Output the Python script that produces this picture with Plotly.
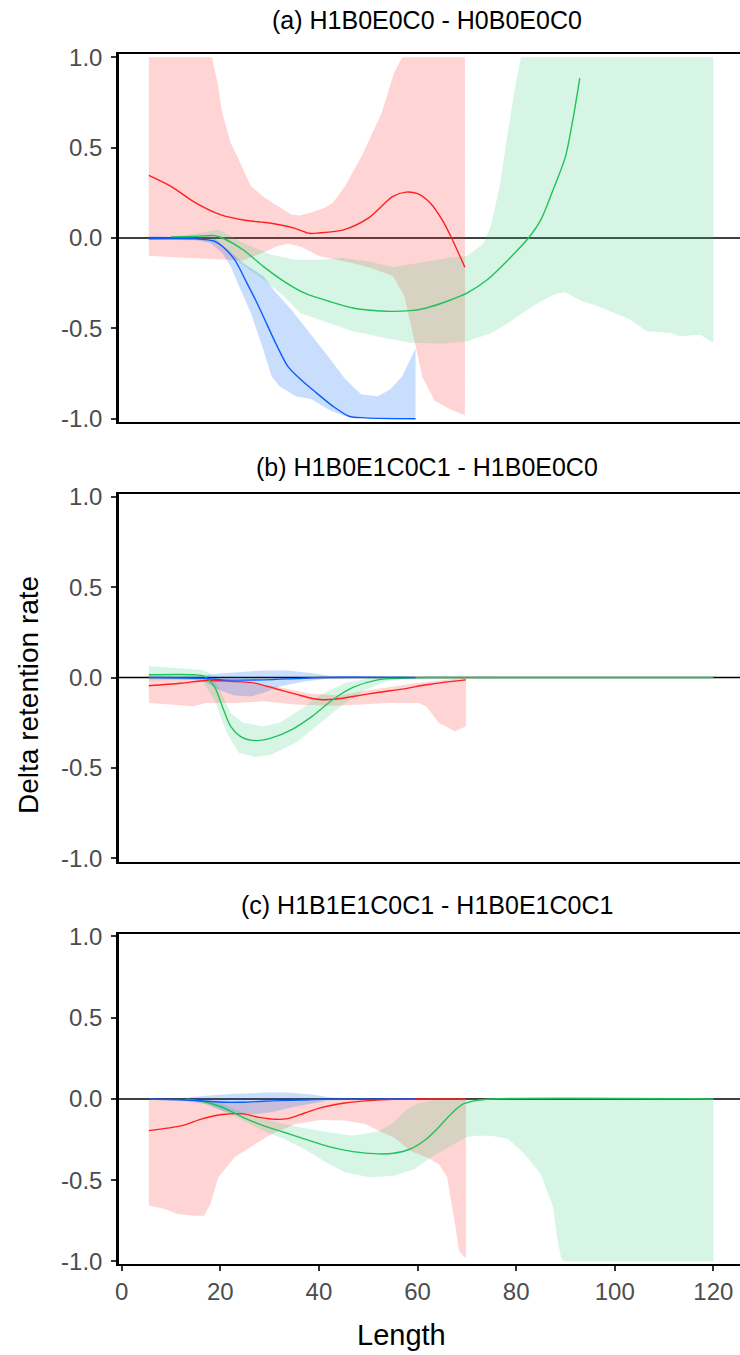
import plotly.graph_objects as go

W, H = 740, 1355

# ---------------- Panel (a) ----------------
a_red_x = [5.5, 10, 15, 20, 25, 30, 35, 38, 40, 45, 50, 55, 57.7, 60, 62.7, 65, 66.9, 69.6]
a_red_y = [0.347, 0.286, 0.194, 0.129, 0.098, 0.083, 0.055, 0.026, 0.028, 0.045, 0.11, 0.23, 0.254, 0.245, 0.19, 0.10, 0.0, -0.162]
a_red_up_x = [5.5, 18.3, 19.5, 20.4, 22.1, 23.8, 26.2, 28.7, 31.2, 34.5, 36.2, 38.6, 41.1, 42.8, 45.3, 48.6, 52.7, 55.2, 56.9, 69.6]
a_red_up_y = [1.0, 1.0, 0.85, 0.69, 0.525, 0.43, 0.286, 0.23, 0.184, 0.129, 0.124, 0.142, 0.166, 0.194, 0.286, 0.45, 0.69, 0.91, 1.0, 1.0]
a_red_lo_x = [5.5, 10, 15, 20.4, 24.6, 28.7, 31.5, 33.7, 36.5, 40, 43, 47, 51, 55, 57.3, 59.3, 61, 63.5, 66.8, 69.6]
a_red_lo_y = [-0.098, -0.105, -0.11, -0.12, -0.125, -0.08, -0.045, -0.03, -0.05, -0.10, -0.115, -0.14, -0.17, -0.21, -0.32, -0.56, -0.77, -0.9, -0.95, -0.98]

a_grn_x = [10, 14, 18.8, 20.4, 24.6, 28.7, 32.9, 37, 42, 46.9, 53.5, 58.5, 61.8, 66, 70.1, 74.2, 78.4, 82.5, 85, 87.5, 90, 91.6, 92.9]
a_grn_y = [0.006, 0.008, 0.013, 0.0, -0.065, -0.157, -0.24, -0.304, -0.35, -0.387, -0.405, -0.402, -0.387, -0.35, -0.304, -0.23, -0.12, 0.0, 0.10, 0.267, 0.45, 0.67, 0.885]
a_grn_up_x = [10, 14, 19.6, 25, 30, 35, 40, 45, 50, 55, 60, 66, 70, 73.4, 75, 76.7, 78.4, 80, 81, 120]
a_grn_up_y = [0.01, 0.02, 0.046, -0.03, -0.09, -0.12, -0.12, -0.11, -0.13, -0.16, -0.14, -0.11, -0.10, -0.03, 0.08, 0.29, 0.6, 0.87, 1.0, 1.0]
a_grn_lo_x = [10, 14, 18, 20.4, 24, 28.7, 32.8, 36.2, 42, 46.9, 53.5, 58.5, 65.1, 70.1, 75, 78.4, 81.7, 85, 88, 90, 93.3, 95.8, 99.9, 103.2, 106.5, 111.5, 113.1, 117.3, 120]
a_grn_lo_y = [-0.01, -0.005, 0.0, -0.046, -0.14, -0.23, -0.32, -0.415, -0.47, -0.516, -0.553, -0.58, -0.584, -0.571, -0.525, -0.47, -0.406, -0.35, -0.31, -0.30, -0.35, -0.369, -0.415, -0.452, -0.516, -0.525, -0.544, -0.535, -0.58]

a_blu_x = [5.5, 15, 18.8, 20.4, 22.9, 25.4, 27.1, 28.7, 31.2, 33.7, 36.2, 39.5, 42.8, 46.1, 49.4, 59.6]
a_blu_y = [-0.004, -0.005, -0.018, -0.046, -0.12, -0.25, -0.34, -0.433, -0.58, -0.71, -0.78, -0.857, -0.93, -0.986, -0.995, -1.0]
a_blu_up_x = [5.5, 15, 18.8, 20.4, 24.6, 28.7, 31.2, 34.5, 38.6, 42, 45.3, 48.6, 51.9, 54.4, 56.9, 59.6]
a_blu_up_y = [0.01, 0.005, 0.0, -0.037, -0.138, -0.21, -0.30, -0.40, -0.54, -0.66, -0.78, -0.866, -0.876, -0.84, -0.765, -0.61]
a_blu_lo_x = [5.5, 15, 18, 20.4, 22.1, 23.8, 26.2, 28.7, 30.4, 32, 35.3, 38.6, 42, 45.3, 48.6, 59.6]
a_blu_lo_y = [-0.01, -0.012, -0.028, -0.083, -0.157, -0.267, -0.415, -0.617, -0.765, -0.82, -0.876, -0.894, -0.95, -0.986, -0.995, -1.0]

# ---------------- Panel (b) ----------------
b_red_x = [5.5, 12, 17.1, 22.9, 27, 31.2, 35.3, 38.6, 40.7, 43.6, 46.9, 51.9, 56.9, 61.8, 66, 69.8]
b_red_y = [-0.046, -0.032, -0.017, -0.022, -0.031, -0.062, -0.092, -0.116, -0.123, -0.119, -0.105, -0.083, -0.064, -0.04, -0.024, -0.013]
b_red_up_x = [5.5, 15, 20, 23.3, 31.4, 38.2, 44.3, 50, 55, 60, 65, 69.8]
b_red_up_y = [-0.005, -0.005, -0.01, -0.022, -0.05, -0.09, -0.10, -0.07, -0.05, -0.03, -0.015, 0.0]
b_red_lo_x = [5.5, 14.6, 17.1, 22.9, 28.7, 35.3, 42, 48.6, 53.5, 60.2, 61.8, 64.3, 67.6, 69.8]
b_red_lo_y = [-0.141, -0.159, -0.141, -0.141, -0.132, -0.150, -0.156, -0.15, -0.141, -0.141, -0.160, -0.25, -0.297, -0.270]

b_grn_x = [5.5, 14.7, 16.7, 18.8, 20.4, 22.1, 24.6, 27.5, 30.4, 34.5, 38.6, 42.8, 46.9, 51.9, 56.9, 61.8, 120]
b_grn_y = [0.015, 0.015, 0.006, -0.05, -0.16, -0.27, -0.334, -0.349, -0.334, -0.288, -0.215, -0.123, -0.055, -0.013, -0.004, 0.0, 0.0]
b_grn_up_x = [5.5, 12.2, 16.3, 18, 19.6, 22.1, 24.6, 28.7, 32, 36.2, 40.3, 45.3, 50.2, 55.2, 120]
b_grn_up_y = [0.064, 0.051, 0.042, 0.024, -0.05, -0.196, -0.251, -0.27, -0.251, -0.178, -0.095, -0.031, -0.006, 0.0, 0.0]
b_grn_lo_x = [5.5, 12.2, 16.3, 18.8, 21.3, 23.7, 27.1, 30.4, 35.3, 40.3, 45.3, 49.4, 53.5, 58.5, 120]
b_grn_lo_y = [-0.017, -0.013, -0.017, -0.123, -0.306, -0.417, -0.44, -0.426, -0.361, -0.251, -0.141, -0.068, -0.022, -0.004, 0.0]

b_blu_x = [5.5, 16.3, 20.4, 28.7, 35.3, 40.3, 59.6]
b_blu_y = [0.0, -0.004, -0.013, -0.013, -0.006, 0.0, 0.0]
b_blu_up_x = [5.5, 15, 20.4, 28.7, 33.7, 38.6, 42, 59.6]
b_blu_up_y = [0.005, 0.01, 0.024, 0.039, 0.039, 0.024, 0.009, 0.002]
b_blu_lo_x = [5.5, 16.3, 19.6, 22.9, 26.2, 28.7, 32, 37, 42, 59.6]
b_blu_lo_y = [-0.004, -0.013, -0.068, -0.10, -0.105, -0.086, -0.05, -0.022, -0.006, -0.002]

# ---------------- Panel (c) ----------------
c_red_x = [5.5, 12.2, 16.3, 20.4, 24.6, 27.9, 31.2, 33.7, 37, 40.3, 45.3, 50.2, 55.2, 59.6, 69.8]
c_red_y = [-0.195, -0.164, -0.123, -0.096, -0.092, -0.113, -0.125, -0.121, -0.088, -0.055, -0.025, -0.01, -0.002, 0.0, 0.0]
c_red_up_x = [5.5, 20, 30, 40, 50, 69.8]
c_red_up_y = [-0.005, -0.01, -0.02, -0.01, 0.0, 0.0]
c_red_lo_x = [5.5, 8.8, 11.3, 14.6, 16.7, 18, 19.6, 22.9, 27.1, 30.4, 35.3, 40.3, 45.3, 49.4, 52.7, 55.2, 58.5, 61.8, 64.3, 66, 67.6, 68.4, 69.5, 69.8]
c_red_lo_y = [-0.656, -0.677, -0.708, -0.718, -0.718, -0.646, -0.482, -0.359, -0.277, -0.215, -0.154, -0.129, -0.133, -0.154, -0.205, -0.236, -0.318, -0.359, -0.40, -0.482, -0.769, -0.933, -0.974, -0.974]

c_grn_x = [13, 17.1, 20.4, 24.6, 28.7, 32.9, 37, 42, 46.9, 51.9, 55.2, 58.5, 61.8, 64.3, 66.8, 69.3, 71.8, 75, 120]
c_grn_y = [0.0, -0.02, -0.051, -0.113, -0.164, -0.205, -0.246, -0.293, -0.324, -0.338, -0.334, -0.308, -0.246, -0.174, -0.092, -0.031, -0.01, 0.0, 0.0]
c_grn_up_x = [13, 17.1, 20.4, 24.6, 28.7, 32.9, 37, 42, 46.9, 52, 55, 58, 60, 63.5, 69.8, 120]
c_grn_up_y = [0.0, -0.01, -0.031, -0.082, -0.123, -0.154, -0.178, -0.205, -0.226, -0.2, -0.15, -0.06, -0.03, -0.006, 0.0, 0.0]
c_grn_lo_x = [13, 17.1, 20.4, 24.6, 28.7, 32.9, 37, 42, 45.3, 50.2, 55.2, 59.4, 62.7, 66, 69.8, 71.8, 75, 78.4, 81.7, 85, 87.5, 88.4, 89.2, 90, 120]
c_grn_lo_y = [0.0, -0.031, -0.072, -0.133, -0.195, -0.246, -0.308, -0.40, -0.451, -0.482, -0.472, -0.431, -0.359, -0.30, -0.236, -0.226, -0.226, -0.246, -0.338, -0.462, -0.667, -0.87, -0.99, -1.0, -1.0]

c_blu_x = [5.5, 13, 17.1, 20.4, 24.6, 28.7, 32.9, 37, 41.1, 59.6]
c_blu_y = [0.0, -0.006, -0.014, -0.02, -0.02, -0.014, -0.01, -0.006, -0.002, 0.0]
c_blu_up_x = [5.5, 12.2, 17.1, 22.1, 28.7, 33.7, 38.6, 42, 46.9, 59.6]
c_blu_up_y = [0.0, 0.006, 0.02, 0.031, 0.039, 0.039, 0.027, 0.01, 0.002, 0.0]
c_blu_lo_x = [5.5, 12.2, 17.1, 20.4, 22.9, 26.2, 30.4, 34.5, 38.6, 42, 46.9, 59.6]
c_blu_lo_y = [-0.004, -0.01, -0.031, -0.072, -0.092, -0.096, -0.082, -0.051, -0.027, -0.01, -0.002, 0.0]

titles = ["(a) H1B0E0C0 - H0B0E0C0", "(b) H1B0E1C0C1 - H1B0E0C0", "(c) H1B1E1C0C1 - H1B0E1C0C1"]
y_tick_vals = [1.0, 0.5, 0.0, -0.5, -1.0]
y_tick_text = ["1.0", "0.5", "0.0", "-0.5", "-1.0"]
x_tick_vals = [0, 20, 40, 60, 80, 100, 120]
x_tick_text = ["0", "20", "40", "60", "80", "100", "120"]

LINE = {"red": "#FF1F1F", "green": "#22C25A", "blue": "#0A5CFF"}
FILL = {"red": "rgba(255,40,40,0.2)", "green": "rgba(40,200,110,0.19)", "blue": "rgba(0,100,245,0.21)"}

panels = [
    [("red", a_red_x, a_red_y, a_red_up_x, a_red_up_y, a_red_lo_x, a_red_lo_y),
     ("green", a_grn_x, a_grn_y, a_grn_up_x, a_grn_up_y, a_grn_lo_x, a_grn_lo_y),
     ("blue", a_blu_x, a_blu_y, a_blu_up_x, a_blu_up_y, a_blu_lo_x, a_blu_lo_y)],
    [("red", b_red_x, b_red_y, b_red_up_x, b_red_up_y, b_red_lo_x, b_red_lo_y),
     ("green", b_grn_x, b_grn_y, b_grn_up_x, b_grn_up_y, b_grn_lo_x, b_grn_lo_y),
     ("blue", b_blu_x, b_blu_y, b_blu_up_x, b_blu_up_y, b_blu_lo_x, b_blu_lo_y)],
    [("red", c_red_x, c_red_y, c_red_up_x, c_red_up_y, c_red_lo_x, c_red_lo_y),
     ("green", c_grn_x, c_grn_y, c_grn_up_x, c_grn_up_y, c_grn_lo_x, c_grn_lo_y),
     ("blue", c_blu_x, c_blu_y, c_blu_up_x, c_blu_up_y, c_blu_lo_x, c_blu_lo_y)],
]

# panel pixel geometry (top, bottom) and title centre
panel_px = [(54, 422), (493.5, 861.5), (933.5, 1264.4)]
title_px = [20, 467, 905]
x_left_px = 119

def py(p):
    return 1 - p / H

FONT = "Liberation Sans, Arial, sans-serif"
fig = go.Figure()

for i, series in enumerate(panels):
    sfx = "" if i == 0 else str(i + 1)
    xa, ya = "x" + sfx, "y" + sfx
    for col, lx, ly, ux, uy, lox, loy in series:
        fig.add_trace(go.Scatter(
            x=list(ux) + list(lox)[::-1], y=list(uy) + list(loy)[::-1],
            fill="toself", fillcolor=FILL[col], line=dict(width=0),
            mode="lines", hoverinfo="skip", showlegend=False, xaxis=xa, yaxis=ya))
    for col, lx, ly, ux, uy, lox, loy in series:
        fig.add_trace(go.Scatter(
            x=lx, y=ly, mode="lines", line=dict(color=LINE[col], width=1.4, shape="spline", smoothing=0.8),
            showlegend=False, xaxis=xa, yaxis=ya))
    fig.add_shape(type="line", xref=xa + " domain", yref=ya, x0=0, x1=1, y0=0, y1=0,
                  line=dict(color="black", width=1.5), layer="below")
    top, bot = panel_px[i]
    last = i == 2
    fig.layout["xaxis" + sfx] = dict(
        domain=[x_left_px / W, 1], range=[-0.55, 125.4], anchor=ya, automargin=False,
        showline=True, linecolor="black", linewidth=2, mirror=True,
        showgrid=False, zeroline=False,
        ticks="outside" if last else "", ticklen=5, tickwidth=1.5, tickcolor="#333333",
        showticklabels=last, tickvals=x_tick_vals, ticktext=x_tick_text,
        tickfont=dict(family=FONT, size=24, color="#4D4D4D"))
    fig.layout["yaxis" + sfx] = dict(
        domain=[py(bot), py(top)], range=[-1.018, 1.018], anchor=xa, automargin=False,
        showline=True, linecolor="black", linewidth=2.5,
        showgrid=False, zeroline=False,
        ticks="outside", ticklen=5, tickwidth=1.5, tickcolor="#333333",
        tickvals=y_tick_vals, ticktext=y_tick_text, ticklabelstandoff=4,
        tickfont=dict(family=FONT, size=24, color="#4D4D4D"))
    fig.add_annotation(text=titles[i], xref="paper", yref="paper", x=427 / W, y=py(title_px[i]),
                       xanchor="center", yanchor="middle", showarrow=False,
                       font=dict(family=FONT, size=25, color="black"))

fig.add_annotation(text="Length", xref="paper", yref="paper", x=401 / W, y=py(1335),
                   xanchor="center", yanchor="middle", showarrow=False,
                   font=dict(family=FONT, size=29, color="black"))
fig.add_annotation(text="Delta retention rate", xref="paper", yref="paper", x=28 / W, y=py(695),
                   xanchor="center", yanchor="middle", showarrow=False, textangle=-90,
                   font=dict(family=FONT, size=28, color="black"))

fig.update_layout(width=W, height=H, margin=dict(l=0, r=0, t=0, b=0, autoexpand=False),
                  paper_bgcolor="white", plot_bgcolor="white", showlegend=False)

fig.write_html("out.html")
